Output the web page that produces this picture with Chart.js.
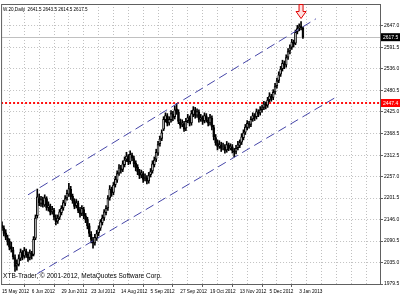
<!DOCTYPE html>
<html>
<head>
<meta charset="utf-8">
<script src="https://cdn.jsdelivr.net/npm/chart.js@4"></script>
<style>
  body { margin: 0; background: #fff; }
  #wrap { width: 400px; height: 296px; position: relative; }
</style>
</head>
<body>
<div id="wrap"><canvas id="chart"></canvas></div>
<script>
// W.20 daily candles, 15 May 2012 -> Jan 2013
const opens = [
  2132,2124,2112,2098,2090,2076,2068,2048,2028,2030,
  2046,2060,2052,2064,2056,2048,2058,2056,2098,2156,
  2200,2188,2196,2184,2200,2178,2180,2166,2170,2150,
  2142,2152,2164,2176,2188,2202,2212,2224,2206,2194,
  2182,2188,2172,2162,2172,2156,2146,2130,2108,2094,
  2086,2098,2112,2124,2138,2150,2164,2176,2202,2224,
  2216,2236,2248,2266,2278,2276,2288,2302,2308,2296,
  2312,2304,2292,2282,2268,2262,2264,2252,2254,2246,
  2262,2272,2288,2302,2318,2342,2356,2380,2404,2414,
  2396,2404,2418,2412,2432,2424,2398,2392,2394,2382,
  2402,2408,2396,2418,2428,2416,2424,2406,2408,2402,
  2414,2404,2396,2408,2384,2358,2344,2336,2338,2332,
  2334,2326,2338,2332,2334,2324,2322,2332,2338,2346,
  2358,2372,2384,2394,2392,2406,2414,2412,2424,2422,
  2430,2436,2444,2442,2456,2464,2462,2476,2492,2506,
  2522,2536,2548,2546,2566,2582,2592,2604,2602,2632,
  2642,2646,2641.5
];
const highs = [
  2140,2130,2120,2106,2096,2088,2074,2055,2042,2055,
  2070,2066,2074,2070,2062,2068,2064,2102,2158,2225,
  2212,2206,2204,2210,2205,2192,2186,2180,2175,2158,
  2158,2172,2182,2196,2208,2222,2240,2232,2212,2200,
  2198,2194,2178,2182,2178,2162,2152,2136,2115,2100,
  2108,2118,2130,2146,2158,2172,2182,2208,2234,2230,
  2242,2258,2272,2288,2286,2298,2308,2320,2314,2324,
  2318,2310,2298,2288,2276,2274,2270,2264,2260,2268,
  2278,2298,2308,2328,2348,2362,2378,2412,2422,2420,
  2412,2428,2426,2440,2446,2430,2406,2404,2400,2408,
  2418,2414,2428,2438,2436,2432,2430,2418,2414,2422,
  2420,2410,2418,2414,2390,2366,2352,2350,2346,2344,
  2340,2348,2344,2342,2340,2330,2338,2348,2352,2368,
  2378,2392,2402,2400,2412,2422,2420,2432,2430,2438,
  2442,2452,2450,2462,2474,2470,2482,2498,2512,2528,
  2542,2558,2556,2572,2588,2598,2612,2610,2636,2648,
  2652,2658,2643.5
];
const lows = [
  2118,2104,2094,2080,2068,2062,2044,2012,2015,2026,
  2040,2042,2046,2048,2038,2042,2044,2052,2094,2150,
  2182,2180,2178,2180,2170,2168,2158,2160,2145,2132,
  2136,2146,2158,2170,2182,2196,2206,2198,2188,2174,
  2176,2164,2152,2156,2148,2138,2122,2102,2086,2072,
  2080,2092,2104,2118,2132,2144,2158,2170,2196,2206,
  2210,2230,2242,2260,2266,2270,2282,2296,2288,2290,
  2298,2282,2272,2262,2252,2254,2242,2246,2238,2240,
  2256,2266,2282,2296,2312,2336,2350,2376,2398,2388,
  2390,2398,2402,2406,2418,2394,2382,2386,2374,2376,
  2396,2388,2390,2412,2408,2410,2398,2400,2392,2396,
  2398,2388,2390,2378,2352,2338,2326,2330,2322,2326,
  2318,2320,2324,2326,2318,2308,2316,2326,2332,2340,
  2352,2366,2378,2382,2386,2400,2402,2406,2412,2416,
  2424,2430,2432,2436,2450,2452,2456,2470,2486,2500,
  2516,2530,2536,2540,2560,2574,2586,2592,2598,2626,
  2634,2636,2614.5
];
const closes = [
  2125,2110,2100,2088,2075,2070,2050,2025,2032,2045,
  2062,2050,2066,2055,2046,2060,2052,2095,2150,2205,
  2190,2198,2185,2202,2176,2182,2165,2172,2152,2140,
  2150,2166,2175,2190,2200,2214,2226,2205,2195,2180,
  2190,2170,2160,2175,2155,2145,2130,2110,2095,2085,
  2100,2110,2122,2140,2150,2166,2175,2200,2225,2215,
  2235,2250,2265,2280,2274,2290,2300,2310,2295,2315,
  2305,2290,2280,2270,2260,2266,2250,2255,2245,2260,
  2270,2290,2300,2320,2340,2355,2370,2405,2415,2395,
  2405,2420,2410,2430,2425,2400,2390,2395,2380,2400,
  2410,2395,2420,2430,2415,2425,2405,2410,2400,2415,
  2405,2395,2410,2385,2360,2345,2335,2340,2330,2335,
  2325,2340,2330,2335,2325,2320,2330,2340,2345,2360,
  2370,2385,2395,2390,2405,2415,2410,2425,2420,2430,
  2435,2445,2440,2455,2465,2460,2475,2490,2505,2520,
  2535,2550,2545,2565,2580,2590,2605,2600,2630,2640,
  2645,2642,2617.5
];

// date labels, one every 16 bars
const dateLabels = ['15 May 2012', '6 Jun 2012', '29 Jun 2012', '23 Jul 2012', '14 Aug 2012',
  '5 Sep 2012', '27 Sep 2012', '19 Oct 2012', '13 Nov 2012', '5 Dec 2012', '3 Jan 2013'];
const barsPerLabel = 16;
const barsPerGrid = 8;
const totalSlots = 204;

const priceTicks = [2647.0, 2591.5, 2536.0, 2480.5, 2425.0, 2368.5, 2312.5, 2257.0,
  2201.5, 2146.0, 2090.5, 2035.0, 1979.5];

// channel lines: [bar, price]
const upperChannel = [[14, 2210], [169, 2665]];
const lowerChannel = [[19, 2006], [180, 2463]];

const bidPrice = 2617.5;
const levelPrice = 2447.4;
const arrowBar = 161;
const titleText = 'W.20,Daily  2641.5 2643.5 2614.5 2617.5';
const footText = 'XTB-Trader, \u00A9 2001-2012, MetaQuotes Software Corp.';

const FONT = "'Liberation Sans', Arial, sans-serif";
Chart.defaults.font.family = FONT;
Chart.defaults.font.size = 5;
Chart.defaults.color = '#000';

const bodies = opens.map((o, i) => ({ x: i, y: [o, closes[i]] }));
const wicks = lows.map((l, i) => ({ x: i, y: [l, highs[i]] }));
const bodyColors = opens.map((o, i) => closes[i] >= o ? '#ffffff' : '#000000');

const gridBars = [];
for (let b = 0; b < totalSlots; b += barsPerGrid) gridBars.push(b);

//-------------extra drawing: price lines, label boxes, texts, arrow-------------->
const mtPlugin = {
  id: 'mtPlugin',
  beforeDatasetsDraw(chart) {
    const { ctx, chartArea: a, scales: { y } } = chart;
    ctx.save();
    let py = Math.round(y.getPixelForValue(bidPrice)) + 0.5;
    ctx.strokeStyle = '#c0c0c0';
    ctx.lineWidth = 1;
    ctx.beginPath(); ctx.moveTo(a.left, py); ctx.lineTo(a.right, py); ctx.stroke();
    py = Math.round(y.getPixelForValue(levelPrice));
    ctx.strokeStyle = '#ff1010';
    ctx.lineWidth = 2;
    ctx.setLineDash([2, 2]);
    ctx.beginPath(); ctx.moveTo(a.left, py); ctx.lineTo(a.right, py); ctx.stroke();
    ctx.restore();
  },
  afterDraw(chart) {
    const { ctx, chartArea: a, scales: { x, y } } = chart;
    ctx.save();
    // frame
    ctx.strokeStyle = '#606060';
    ctx.lineWidth = 1;
    ctx.strokeRect(a.left + 0.5, a.top + 0.5, a.right - a.left, a.bottom - a.top);

    // price boxes
    const box = (v, bg) => {
      const py = y.getPixelForValue(v);
      ctx.fillStyle = bg;
      ctx.fillRect(a.right + 1, py - 4, 19, 8);
      ctx.fillStyle = '#fff';
      ctx.font = '5px ' + FONT;
      ctx.textBaseline = 'middle';
      ctx.textAlign = 'left';
      ctx.fillText(v.toFixed(1), a.right + 3, py + 0.5);
    };
    box(bidPrice, '#000');
    box(levelPrice, '#ff0000');

    // texts
    ctx.fillStyle = '#000';
    ctx.textBaseline = 'middle';
    ctx.textAlign = 'left';
    ctx.font = '4.6px ' + FONT;
    ctx.fillText(titleText, a.left + 2, a.top + 6);
    ctx.font = '6.5px ' + FONT;
    ctx.fillText(footText, a.left + 2, a.bottom - 8);

    // red arrow above the top bar
    const ax = x.getPixelForValue(arrowBar);
    const tip = y.getPixelForValue(highs[arrowBar]) - 3;
    ctx.beginPath();
    ctx.moveTo(ax - 2, tip - 14);
    ctx.lineTo(ax + 2, tip - 14);
    ctx.lineTo(ax + 2, tip - 7);
    ctx.lineTo(ax + 5, tip - 7);
    ctx.lineTo(ax, tip);
    ctx.lineTo(ax - 5, tip - 7);
    ctx.lineTo(ax - 2, tip - 7);
    ctx.closePath();
    ctx.fillStyle = '#ffe0e0';
    ctx.fill();
    ctx.strokeStyle = '#e00000';
    ctx.stroke();
    ctx.restore();
  }
};

const ctx = document.getElementById('chart').getContext('2d');
const config = {
  type: 'bar',
  data: {
    datasets: [
      {
        type: 'line',
        data: upperChannel.map(p => ({ x: p[0], y: p[1] })),
        borderColor: '#4646a8',
        borderWidth: 1,
        borderDash: [9, 5],
        pointRadius: 0,
        fill: false,
        order: -1
      },
      {
        type: 'line',
        data: lowerChannel.map(p => ({ x: p[0], y: p[1] })),
        borderColor: '#4646a8',
        borderWidth: 1,
        borderDash: [9, 5],
        pointRadius: 0,
        fill: false,
        order: -1
      },
      {
        data: bodies,
        backgroundColor: bodyColors,
        borderColor: '#000',
        borderWidth: 1,
        borderSkipped: false,
        barThickness: 2,
        grouped: false,
        order: 0
      },
      {
        data: wicks,
        backgroundColor: '#000',
        borderWidth: 0,
        barThickness: 1,
        grouped: false,
        order: 1
      }
    ]
  },
  options: {
    responsive: true,
    maintainAspectRatio: false,
    animation: false,
    layout: { padding: { left: 0, top: 0, right: 0, bottom: 0 } },
    plugins: { legend: { display: false }, tooltip: { enabled: false } },
    scales: {
      x: {
        type: 'linear',
        min: -0.5,
        max: totalSlots - 0.5,
        offset: false,
        afterBuildTicks: s => { s.ticks = gridBars.map(v => ({ value: v })); },
        afterFit: s => { s.height = 12; },
        ticks: {
          autoSkip: false,
          maxRotation: 0,
          align: 'start',
          padding: 2,
          font: { size: 4.7 },
          callback: v => (v % barsPerLabel === 0 && dateLabels[v / barsPerLabel]) || ''
        },
        grid: {
          color: '#c0c0c0',
          tickLength: 3,
          tickColor: c => (c.tick && c.tick.value % barsPerLabel === 0 && c.tick.value / barsPerLabel < dateLabels.length) ? '#606060' : 'transparent'
        },
        border: { color: '#606060', dash: [1, 2] }
      },
      y: {
        position: 'right',
        min: 1979.5,
        max: 2703.3,
        afterBuildTicks: s => { s.ticks = priceTicks.map(v => ({ value: v })); },
        afterFit: s => { s.width = 20; },
        ticks: {
          padding: 1,
          callback: v => v.toFixed(1)
        },
        grid: { color: '#c0c0c0', tickLength: 3, tickColor: '#606060' },
        border: { color: '#606060', dash: [1, 2] }
      }
    }
  },
  plugins: [mtPlugin]
};

new Chart(ctx, config);
</script>
</body>
</html>
